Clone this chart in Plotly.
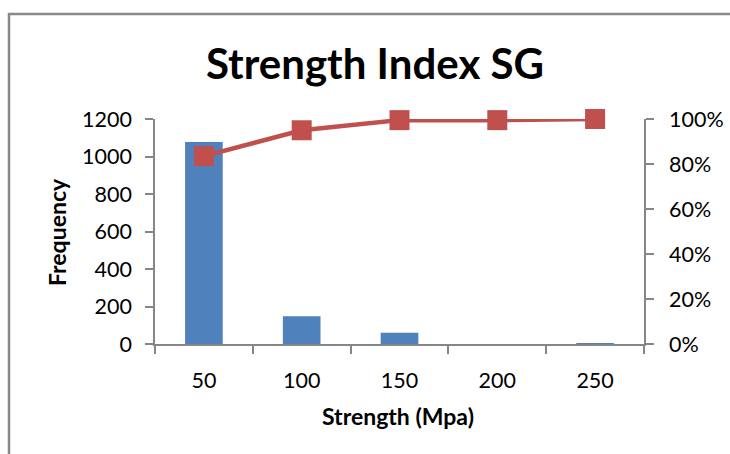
import plotly.graph_objects as go

# Histogram bins (upper edge, MPa) and counts, with cumulative share
bins = ["50", "100", "150", "200", "250"]
frequency = [1078, 148, 60, 0, 3]
cumulative = [0.835, 0.95, 0.995, 0.995, 1.0]

left_ticks = [0, 200, 400, 600, 800, 1000, 1200]
right_ticks = [0, 0.2, 0.4, 0.6, 0.8, 1.0]

FONT = "Lato"
AXIS_GREY = "#868686"

fig = go.Figure()
fig.add_trace(go.Bar(
    x=bins, y=frequency, name="Frequency",
    marker=dict(color="#4F81BD", line=dict(width=0)),
    yaxis="y",
))
fig.add_trace(go.Scatter(
    x=bins, y=cumulative, name="Cumulative %",
    mode="lines+markers",
    line=dict(color="#C0504D", width=4.5),
    marker=dict(symbol="square", size=20, color="#C0504D"),
    cliponaxis=False,
    yaxis="y2",
))

W, H = 730, 454
L, R, T, B = 155, 86, 119, 110
pw, ph = W - L - R, H - T - B

def px_x(v):
    return (v - L) / pw

def px_y(v):
    return (H - B - v) / ph

tick_font = dict(size=21.5, family=FONT)

fig.update_layout(
    width=W, height=H,
    margin=dict(l=L, r=R, t=T, b=B, pad=0),
    paper_bgcolor="white", plot_bgcolor="white",
    showlegend=False,
    bargap=0.615,
    font=dict(family=FONT, color="#000000"),
    xaxis=dict(
        type="category", automargin=False,
        showline=True, linecolor=AXIS_GREY, linewidth=1.5,
        ticks="outside", ticklen=8, tickcolor=AXIS_GREY, tickwidth=1.5,
        tickson="boundaries", ticklabelstandoff=16,
        tickfont=tick_font,
        showgrid=False, zeroline=False,
    ),
    yaxis=dict(
        range=[0, 1200], tickvals=left_ticks, automargin=False,
        showline=True, linecolor=AXIS_GREY, linewidth=1.5,
        ticks="outside", ticklen=8, tickcolor=AXIS_GREY, tickwidth=1.5,
        ticklabelstandoff=9,
        tickfont=tick_font,
        showgrid=False, zeroline=False,
    ),
    yaxis2=dict(
        overlaying="y", side="right", automargin=False,
        range=[0, 1.0], tickvals=right_ticks, tickformat=".0%",
        showline=True, linecolor=AXIS_GREY, linewidth=1.5,
        ticks="outside", ticklen=8, tickcolor=AXIS_GREY, tickwidth=1.5,
        ticklabelstandoff=11,
        tickfont=tick_font,
        showgrid=False, zeroline=False,
    ),
    annotations=[
        dict(text="<b>Strength Index SG</b>", xref="paper", yref="paper",
             x=px_x(375), y=px_y(63), showarrow=False,
             font=dict(size=42, family=FONT), xanchor="center", yanchor="middle"),
        dict(text="<b>Strength (Mpa)</b>", xref="paper", yref="paper",
             x=px_x(398), y=px_y(416), showarrow=False,
             font=dict(size=23, family=FONT), xanchor="center", yanchor="middle"),
        dict(text="<b>Frequency</b>", xref="paper", yref="paper",
             x=px_x(57), y=px_y(232), showarrow=False, textangle=-90,
             font=dict(size=23, family=FONT), xanchor="center", yanchor="middle"),
    ],
    shapes=[
        # chart frame, running off the right and bottom edges
        dict(type="rect", xref="paper", yref="paper",
             x0=px_x(9), y0=px_y(470), x1=px_x(745), y1=px_y(14),
             line=dict(color="#898989", width=2.5), fillcolor="rgba(0,0,0,0)",
             layer="below"),
    ],
)

fig.write_html("out.html")
